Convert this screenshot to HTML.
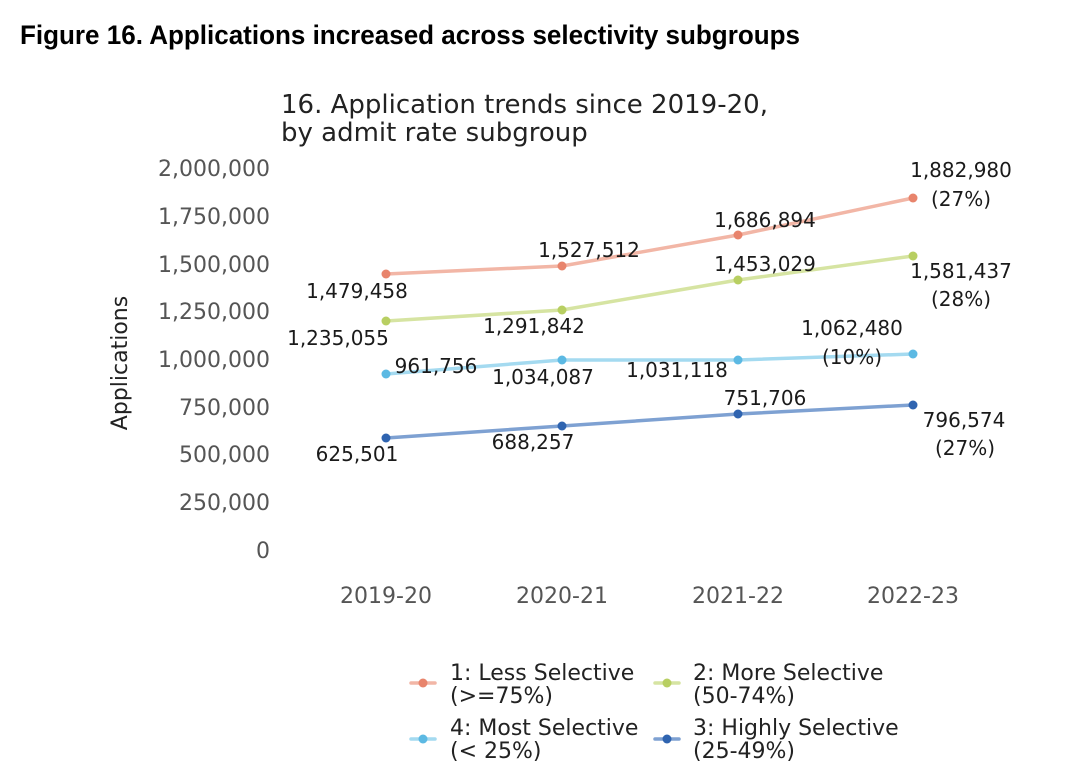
<!DOCTYPE html>
<html>
<head>
<meta charset="utf-8">
<style>
html,body{margin:0;padding:0;background:#fff;}
body{width:1080px;height:784px;overflow:hidden;}
svg{display:block;}
</style>
</head>
<body>
<svg width="1080" height="784" viewBox="0 0 1080 784" xmlns="http://www.w3.org/2000/svg">
  <rect width="1080" height="784" fill="#fff"/>
  <!-- Figure title -->
  <text x="20" y="44" font-family="Liberation Sans, Arial, sans-serif" font-weight="bold" font-size="27" fill="#000" textLength="780" lengthAdjust="spacingAndGlyphs">Figure 16. Applications increased across selectivity subgroups</text>

  <!-- Chart title -->
  <g font-family="DejaVu Sans, sans-serif" fill="#222">
    <text x="281" y="113" font-size="26">16. Application trends since 2019-20,</text>
    <text x="281" y="141" font-size="26">by admit rate subgroup</text>
  </g>

  <!-- Y tick labels -->
  <g font-family="DejaVu Sans, sans-serif" font-size="22" fill="#555" text-anchor="end">
    <text x="270" y="176">2,000,000</text>
    <text x="270" y="224">1,750,000</text>
    <text x="270" y="272">1,500,000</text>
    <text x="270" y="319">1,250,000</text>
    <text x="270" y="367">1,000,000</text>
    <text x="270" y="415">750,000</text>
    <text x="270" y="462">500,000</text>
    <text x="270" y="510">250,000</text>
    <text x="270" y="558">0</text>
  </g>

  <!-- Y axis label -->
  <text transform="translate(127,363) rotate(-90)" font-family="DejaVu Sans, sans-serif" font-size="22" fill="#222" text-anchor="middle">Applications</text>

  <!-- X tick labels -->
  <g font-family="DejaVu Sans, sans-serif" font-size="22" fill="#555" text-anchor="middle">
    <text x="386" y="603">2019-20</text>
    <text x="562" y="603">2020-21</text>
    <text x="738" y="603">2021-22</text>
    <text x="913" y="603">2022-23</text>
  </g>

  <!-- Series lines -->
  <g fill="none" stroke-width="3.5" stroke-linejoin="round" stroke-linecap="round">
    <polyline points="386,274 562,266 738,235 913,198" stroke="#f2b6a6"/>
    <polyline points="386,321 562,310 738,280 913,256" stroke="#d6e4a2"/>
    <polyline points="386,374 562,360 738,360 913,354" stroke="#a4daf0"/>
    <polyline points="386,438 562,426 738,414 913,405" stroke="#7ea1d2"/>
  </g>
  <!-- Series dots -->
  <g>
    <g fill="#e8846c">
      <circle cx="386" cy="274" r="4.5"/><circle cx="562" cy="266" r="4.5"/><circle cx="738" cy="235" r="4.5"/><circle cx="913" cy="198" r="4.5"/>
    </g>
    <g fill="#b8cf62">
      <circle cx="386" cy="321" r="4.5"/><circle cx="562" cy="310" r="4.5"/><circle cx="738" cy="280" r="4.5"/><circle cx="913" cy="256" r="4.5"/>
    </g>
    <g fill="#5cb9e3">
      <circle cx="386" cy="374" r="4.5"/><circle cx="562" cy="360" r="4.5"/><circle cx="738" cy="360" r="4.5"/><circle cx="913" cy="354" r="4.5"/>
    </g>
    <g fill="#2f64b0">
      <circle cx="386" cy="438" r="4.5"/><circle cx="562" cy="426" r="4.5"/><circle cx="738" cy="414" r="4.5"/><circle cx="913" cy="405" r="4.5"/>
    </g>
  </g>

  <!-- Data labels -->
  <g font-family="DejaVu Sans, sans-serif" font-size="20" fill="#1a1a1a" text-anchor="middle">
    <text x="357" y="298">1,479,458</text>
    <text x="589" y="257">1,527,512</text>
    <text x="765" y="227">1,686,894</text>
    <text x="961" y="177">1,882,980</text>
    <text x="961" y="206">(27%)</text>

    <text x="338" y="345">1,235,055</text>
    <text x="534" y="333">1,291,842</text>
    <text x="765" y="271">1,453,029</text>
    <text x="961" y="278">1,581,437</text>
    <text x="961" y="306">(28%)</text>

    <text x="436" y="373">961,756</text>
    <text x="543" y="384">1,034,087</text>
    <text x="677" y="377">1,031,118</text>
    <text x="852" y="335">1,062,480</text>
    <text x="852" y="364">(10%)</text>

    <text x="357" y="461">625,501</text>
    <text x="533" y="449">688,257</text>
    <text x="765" y="405">751,706</text>
    <text x="964" y="427">796,574</text>
    <text x="965" y="455">(27%)</text>
  </g>

  <!-- Legend -->
  <g stroke-width="3.5" stroke-linecap="round">
    <line x1="411" y1="683" x2="435" y2="683" stroke="#f2b6a6"/>
    <line x1="655" y1="683" x2="679" y2="683" stroke="#d6e4a2"/>
    <line x1="411" y1="739" x2="435" y2="739" stroke="#a4daf0"/>
    <line x1="655" y1="739" x2="679" y2="739" stroke="#7ea1d2"/>
  </g>
  <circle cx="423" cy="683" r="4.5" fill="#e8846c"/>
  <circle cx="667" cy="683" r="4.5" fill="#b8cf62"/>
  <circle cx="423" cy="739" r="4.5" fill="#5cb9e3"/>
  <circle cx="667" cy="739" r="4.5" fill="#2f64b0"/>
  <g font-family="DejaVu Sans, sans-serif" font-size="22" fill="#222">
    <text x="450" y="680">1: Less Selective</text>
    <text x="450" y="703">(&gt;=75%)</text>
    <text x="693" y="680">2: More Selective</text>
    <text x="693" y="703">(50-74%)</text>
    <text x="450" y="735">4: Most Selective</text>
    <text x="450" y="758">(&lt; 25%)</text>
    <text x="693" y="735">3: Highly Selective</text>
    <text x="693" y="758">(25-49%)</text>
  </g>
</svg>
</body>
</html>
